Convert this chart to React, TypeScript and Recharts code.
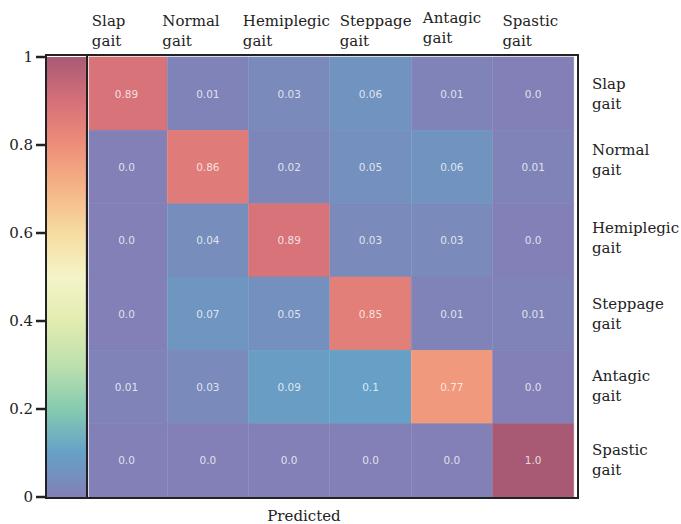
import React from "react";
import { BarChart, Bar, XAxis, YAxis, Cell, LabelList } from "recharts";

// ---------- data ----------
const predictedLabels = ["Slap gait", "Normal gait", "Hemiplegic gait", "Steppage gait", "Antagic gait", "Spastic gait"];
const trueLabels = ["Slap gait", "Normal gait", "Hemiplegic gait", "Steppage gait", "Antagic gait", "Spastic gait"];

const rowSlap = [0.89, 0.01, 0.03, 0.06, 0.01, 0.0];
const rowNormal = [0.0, 0.86, 0.02, 0.05, 0.06, 0.01];
const rowHemiplegic = [0.0, 0.04, 0.89, 0.03, 0.03, 0.0];
const rowSteppage = [0.0, 0.07, 0.05, 0.85, 0.01, 0.01];
const rowAntagic = [0.01, 0.03, 0.09, 0.1, 0.77, 0.0];
const rowSpastic = [0.0, 0.0, 0.0, 0.0, 0.0, 1.0];
const matrix = [rowSlap, rowNormal, rowHemiplegic, rowSteppage, rowAntagic, rowSpastic];

const colorbarTicks = [0, 0.2, 0.4, 0.6, 0.8, 1];
const rowTicks = [0.5, 1.5, 2.5, 3.5, 4.5, 5.5];

// ---------- colormap (washed Spectral_r) ----------
const cmapStops: [number, string][] = [
  [0.0, "#8280b6"],
  [0.1, "#66a0c6"],
  [0.2, "#86cbb0"],
  [0.3, "#bde0ad"],
  [0.4, "#e2ecb0"],
  [0.5, "#f4f4c8"],
  [0.6, "#f6dca0"],
  [0.7, "#f5b487"],
  [0.8, "#ee8e78"],
  [0.9, "#d5707a"],
  [1.0, "#a85a74"],
];

function hexToRgb(h: string) {
  return [parseInt(h.slice(1, 3), 16), parseInt(h.slice(3, 5), 16), parseInt(h.slice(5, 7), 16)];
}
function cmap(v: number) {
  const t = Math.max(0, Math.min(1, v));
  for (let i = 0; i < cmapStops.length - 1; i++) {
    const [a, ca] = cmapStops[i];
    const [b, cb] = cmapStops[i + 1];
    if (t >= a && t <= b) {
      const f = (t - a) / (b - a);
      const A = hexToRgb(ca);
      const B = hexToRgb(cb);
      const c = A.map((x, k) => Math.round(x + (B[k] - x) * f));
      return `rgb(${c[0]},${c[1]},${c[2]})`;
    }
  }
  return cmapStops[cmapStops.length - 1][1];
}

function fmt(v: number) {
  let s = String(v);
  if (!s.includes(".")) s += ".0";
  return s;
}

const SERIF = "'DejaVu Serif', serif";
const FS = 15;
const INK = "#222";

let measureCtx: CanvasRenderingContext2D | null = null;
function textWidth(s: string, font: string) {
  if (typeof document !== "undefined") {
    if (!measureCtx) measureCtx = document.createElement("canvas").getContext("2d");
    if (measureCtx) {
      measureCtx.font = font;
      return measureCtx.measureText(s).width;
    }
  }
  return s.length * 9;
}

// small per-label nudges (styling only)
const topNudgeX = [-18, -17, -3, 5, 0, -3];
const topNudgeY = [0, 0, 0, 0, -3, 0];
const rightNudgeY = [0, -7, -2, 0, -1, 0];

const TopTick = (props: any) => {
  const { x, y, payload, index } = props;
  const parts = String(payload.value).split(" ");
  const font = `${FS}px ${SERIF}`;
  const w = Math.max(...parts.map((p) => textWidth(p, font)));
  const left = x - w / 2 + (topNudgeX[index] || 0);
  const yy = y + (topNudgeY[index] || 0);
  return (
    <text x={left} y={yy} fill={INK} fontFamily={SERIF} fontSize={FS} textAnchor="start">
      <tspan x={left} y={yy - 23}>{parts[0]}</tspan>
      <tspan x={left} y={yy - 3}>{parts[1]}</tspan>
    </text>
  );
};

const RightTick = (props: any) => {
  const { x, y, payload } = props;
  const idx = rowTicks.indexOf(payload.value);
  const parts = (trueLabels[idx] || "").split(" ");
  const yy = y + (rightNudgeY[idx] || 0);
  return (
    <text x={x} y={yy} fill={INK} fontFamily={SERIF} fontSize={FS} textAnchor="start">
      <tspan x={x} y={yy - 5}>{parts[0]}</tspan>
      <tspan x={x} y={yy + 15}>{parts[1]}</tspan>
    </text>
  );
};

const heatData = predictedLabels.map((name) => {
  const d: any = { name };
  trueLabels.forEach((_, i) => (d["r" + i] = 1));
  return d;
});

const colorbarData = [{ name: "cb", v: 1 }];

export default function App() {
  const gradStops = [];
  for (let i = 0; i <= 40; i++) {
    const t = i / 40;
    gradStops.push(<stop key={i} offset={`${t * 100}%`} stopColor={cmap(t)} />);
  }
  return (
    <div style={{ position: "absolute", left: 0, top: 0, width: 681, height: 524, background: "#fff", overflow: "hidden" }}>
      {/* colorbar */}
      <div style={{ position: "absolute", left: 0, top: 0 }}>
        <BarChart width={88} height={524} data={colorbarData} margin={{ top: 57, bottom: 27, left: 0, right: 2 }} barCategoryGap={0}>
          <defs>
            <linearGradient id="cbGrad" x1="0" y1="1" x2="0" y2="0">
              {gradStops}
            </linearGradient>
          </defs>
          <XAxis dataKey="name" hide />
          <YAxis
            type="number"
            domain={[0, 1]}
            ticks={colorbarTicks}
            interval={0}
            width={46}
            axisLine={false}
            tickSize={10}
            tickMargin={3}
            tickLine={{ stroke: INK, strokeWidth: 2.5 }}
            tick={{ fill: INK, fontFamily: SERIF, fontSize: FS }}
            tickFormatter={(v: number) => String(v)}
          />
          <Bar dataKey="v" fill="url(#cbGrad)" isAnimationActive={false} />
        </BarChart>
      </div>
      {/* heatmap */}
      <div style={{ position: "absolute", left: 0, top: 0 }}>
        <BarChart width={681} height={524} data={heatData} margin={{ top: 7, bottom: 27, left: 86, right: 7 }} barCategoryGap={0}>
          <XAxis
            dataKey="name"
            orientation="top"
            height={50}
            axisLine={false}
            tickLine={false}
            interval={0}
            tick={<TopTick />}
          />
          <YAxis
            type="number"
            orientation="right"
            domain={[0, 6]}
            reversed
            ticks={rowTicks}
            interval={0}
            width={100}
            axisLine={false}
            tickLine={false}
            tickSize={6}
            tickMargin={12}
            tick={<RightTick />}
          />
          {trueLabels.map((_, i) => (
            <Bar key={i} dataKey={"r" + i} stackId="m" isAnimationActive={false}>
              {predictedLabels.map((__, j) => (
                <Cell key={j} fill={cmap(matrix[i][j])} stroke={cmap(matrix[i][j])} strokeWidth={0.6} />
              ))}
              <LabelList
                dataKey={"r" + i}
                content={(p: any) => {
                  const j = p.index;
                  return (
                    <text
                      x={p.x + p.width / 2}
                      y={p.y + p.height / 2}
                      textAnchor="middle"
                      dominantBaseline="central"
                      fill="rgba(255,255,255,0.78)"
                      fontFamily="'DejaVu Sans', sans-serif"
                      fontSize={10.5}
                    >
                      {fmt(matrix[i][j])}
                    </text>
                  );
                }}
              />
            </Bar>
          ))}
        </BarChart>
      </div>
      {/* frame */}
      <div style={{ position: "absolute", left: 45, top: 54, width: 530, height: 441, border: `2.5px solid ${INK}`, pointerEvents: "none" }} />
      <div style={{ position: "absolute", left: 85.5, top: 55, width: 2.5, height: 442, background: INK }} />
      <div style={{ position: "absolute", left: 88, top: 56, width: 1, height: 441, background: "rgba(255,255,255,0.7)" }} />
      <div style={{ position: "absolute", left: 0, top: 506, width: 608, textAlign: "center", fontFamily: SERIF, fontSize: FS, color: INK, lineHeight: "20px" }}>
        Predicted
      </div>
    </div>
  );
}
